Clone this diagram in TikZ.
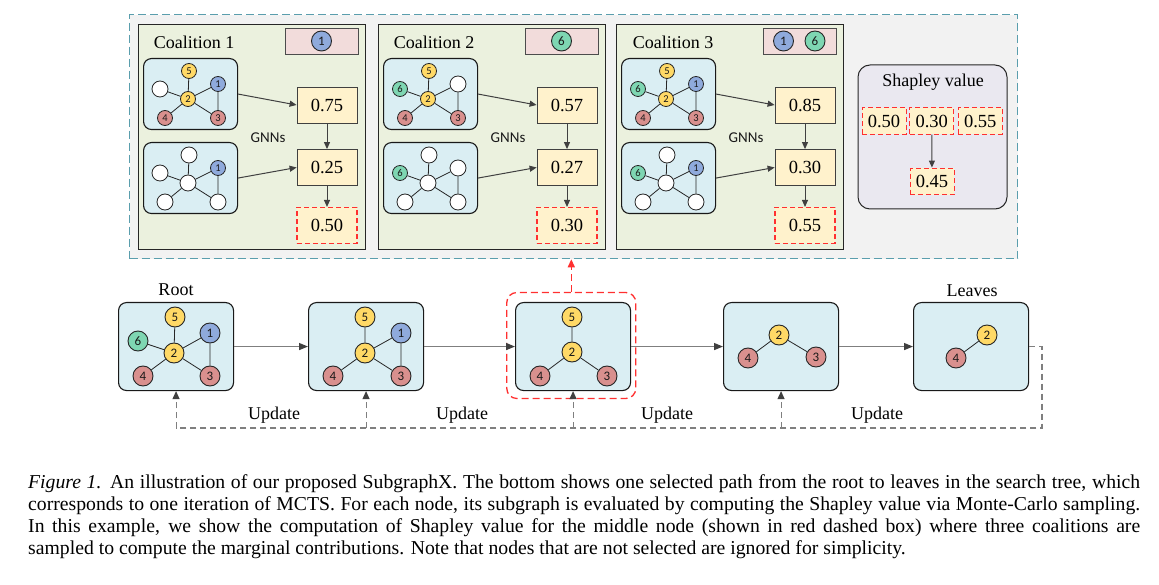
\documentclass[tikz,border=0pt]{standalone}
\usepackage{fontspec}
\setmainfont{Liberation Serif}
\newfontfamily\carl{Carlito}
\usetikzlibrary{arrows.meta}
\definecolor{outerfill}{HTML}{F2F2F2}
\definecolor{tealc}{HTML}{5A9EAD}
\definecolor{panelfill}{HTML}{EBF1DE}
\definecolor{gfill}{HTML}{DAEEF3}
\definecolor{valfill}{HTML}{FFF2CC}
\definecolor{pinkfill}{HTML}{F2DCDB}
\definecolor{shapfill}{HTML}{EAE8F0}
\definecolor{yelc}{HTML}{FFD966}
\definecolor{bluec}{HTML}{8FAADC}
\definecolor{redc}{HTML}{D9908E}
\definecolor{greenc}{HTML}{7ED6B2}
\definecolor{redd}{HTML}{FF3030}
\definecolor{arrc}{HTML}{404040}
\definecolor{linec}{HTML}{7F7F7F}
\newcommand\fs[1]{\fontsize{#1}{#1}\selectfont}
\tikzset{
  topbox/.style={draw=tealc, fill=outerfill, line width=1.3pt, dash pattern=on 8pt off 4pt, inner sep=0pt},
  panel/.style={draw=black!85, fill=panelfill, line width=1pt, anchor=north west, minimum width=227pt, minimum height=225pt, inner sep=0pt},
  gbox/.style={draw=black!90, fill=gfill, line width=1.1pt, rounded corners=8pt, inner sep=0pt},
  vbox/.style={draw=black!75, fill=valfill, line width=0.8pt, minimum width=60pt, minimum height=36pt, inner sep=0pt, font=\fs{18.5}},
  dval/.style={draw=redd, fill=valfill, dash pattern=on 5pt off 3pt, line width=1.1pt, minimum width=60pt, minimum height=36pt, inner sep=0pt, font=\fs{18.5}},
  sbox/.style={draw=redd, fill=valfill, dash pattern=on 5pt off 3pt, line width=1pt, minimum width=44pt, minimum height=26.5pt, inner sep=0pt, font=\fs{18.5}},
  pinkbox/.style={draw=black!70, fill=pinkfill, line width=0.8pt, minimum width=73pt, minimum height=26pt, inner sep=0pt},
  gn/.style={circle, draw=black!85, line width=0.8pt, minimum size=15pt, inner sep=0pt, text=black!90, font=\carl\fs{10.5}},
  gnb/.style={circle, draw=black!85, line width=0.9pt, minimum size=20pt, inner sep=0pt, text=black!90, font=\carl\fs{13}},
  cw/.style={fill=white, minimum size=16pt, node contents={}},
  c1/.style={fill=bluec, node contents=1},
  c2/.style={fill=yelc, node contents=2},
  c3/.style={fill=redc, node contents=3},
  c4/.style={fill=redc, node contents=4},
  c5/.style={fill=yelc, node contents=5},
  c6/.style={fill=greenc, node contents=6},
  gedge/.style={draw=black!85, line width=0.8pt},
  arr/.style={draw=arrc, line width=1pt, -{Triangle[length=7pt,width=6pt]}},
  harr/.style={draw=linec, line width=1.3pt, -{Triangle[length=9pt,width=7pt,color=arrc]}},
  fb/.style={draw=linec, line width=1.1pt, dash pattern=on 6pt off 4pt},
  fbarr/.style={fb, -{Triangle[length=8pt,width=7pt,color=arrc]}},
  ttl/.style={font=\fs{18}, inner sep=0pt},
  gnn/.style={font=\carl\fs{15}, text=black!90, inner sep=0pt},
  captext/.style={font=\fs{19.7}, inner sep=0pt, anchor=base west},
}
\newcommand\sgraph[9]{%
  \node[gbox, minimum width=94pt, minimum height=71pt, anchor=north west] (#1) at (#2,#3) {};
  \begin{scope}[shift={(#2,#3)}]
    \node (#1-5) at (46,13) [gn,#4];
    \node (#1-6) at (17,31) [gn,#5];
    \node (#1-2) at (45,41) [gn,#6];
    \node (#1-1) at (75,26) [gn,#7];
    \node (#1-4) at (22,60) [gn,#8];
    \node (#1-3) at (75,60) [gn,#9];
  \end{scope}
  \draw[gedge] (#1-5)--(#1-2) (#1-6)--(#1-2) (#1-2)--(#1-1) (#1-2)--(#1-4) (#1-2)--(#1-3) (#1-1)--(#1-3);
}
\begin{document}
\begin{tikzpicture}[x=1pt,y=-1pt]
\useasboundingbox[fill=white] (0,0) rectangle (1159,585);
% top dashed box
\node[topbox, anchor=north west, minimum width=888pt, minimum height=244pt] (top) at (129,14) {};
% ---------- Coalition 1
\node[panel] (p1) at (138,24) {};
\node[ttl] (p1t) at (194,42) {Coalition 1};
\node[pinkbox] (p1k) at (321.5,41) {};
\node (p1k1) at (321.5,41) [gnb,c1];
\sgraph{p1a}{143}{58}{c5}{cw}{c2}{c1}{c4}{c3}
\sgraph{p1b}{143}{142}{cw}{cw}{cw}{c1}{cw}{cw}
\node[vbox] (p1v1) at (327,105) {0.75};
\node[vbox] (p1v2) at (327,167.5) {0.25};
\node[dval] (p1v3) at (327,225.5) {0.50};
\node[gnn] (p1g) at (268,138) {GNNs};
\draw[arr] (p1a.east) -- (p1v1.west);
\draw[arr] (p1b.east) -- (p1v2.west);
\draw[arr] (p1v1) -- (p1v2);
\draw[arr] (p1v2) -- (p1v3);
% ---------- Coalition 2
\node[panel] (p2) at (378,24) {};
\node[ttl] (p2t) at (434,42) {Coalition 2};
\node[pinkbox] (p2k) at (561.5,41) {};
\node (p2k6) at (561.5,41) [gnb,c6];
\sgraph{p2a}{383}{58}{c5}{c6}{c2}{cw}{c4}{c3}
\sgraph{p2b}{383}{142}{cw}{c6}{cw}{cw}{cw}{cw}
\node[vbox] (p2v1) at (567,105) {0.57};
\node[vbox] (p2v2) at (567,167.5) {0.27};
\node[dval] (p2v3) at (567,225.5) {0.30};
\node[gnn] (p2g) at (508,138) {GNNs};
\draw[arr] (p2a.east) -- (p2v1.west);
\draw[arr] (p2b.east) -- (p2v2.west);
\draw[arr] (p2v1) -- (p2v2);
\draw[arr] (p2v2) -- (p2v3);
% ---------- Coalition 3
\node[panel] (p3) at (616,24) {};
\node[ttl] (p3t) at (673,42) {Coalition 3};
\node[pinkbox] (p3k) at (799.5,41) {};
\node (p3k1) at (783.5,41) [gnb,c1];
\node (p3k6) at (815,41) [gnb,c6];
\sgraph{p3a}{621}{58}{c5}{c6}{c2}{c1}{c4}{c3}
\sgraph{p3b}{621}{142}{cw}{c6}{cw}{c1}{cw}{cw}
\node[vbox] (p3v1) at (805,105) {0.85};
\node[vbox] (p3v2) at (805,167.5) {0.30};
\node[dval] (p3v3) at (805,225.5) {0.55};
\node[gnn] (p3g) at (746,138) {GNNs};
\draw[arr] (p3a.east) -- (p3v1.west);
\draw[arr] (p3b.east) -- (p3v2.west);
\draw[arr] (p3v1) -- (p3v2);
\draw[arr] (p3v2) -- (p3v3);
% ---------- Shapley value
\node[draw=black!85, fill=shapfill, line width=1pt, rounded corners=12pt, minimum width=149pt, minimum height=144pt, inner sep=0pt, anchor=north west] (shap) at (857.5,64.5) {};
\node[ttl] (shapt) at (933,82) {Shapley value};
\node[sbox] (s1) at (884,121) {0.50};
\node[sbox] (s2) at (931.7,121) {0.30};
\node[sbox] (s3) at (980.3,121) {0.55};
\node[sbox] (s4) at (932,181.3) {0.45};
\draw[arr] (s2) -- (s4);
% ---------- bottom search path
\node[draw=redd, line width=1.3pt, dash pattern=on 7pt off 4pt, rounded corners=10pt, minimum width=129pt, minimum height=106pt, inner sep=0pt] (sel) at (571.3,345.5) {};
\draw[draw=redd, line width=1.3pt, dash pattern=on 7pt off 4pt, -{Triangle[length=8pt,width=7pt]}] (sel.north) -- (sel.north |- top.south);
% root
\node[gbox, minimum width=115pt, minimum height=88pt, anchor=north west] (b1) at (118,302) {};
\begin{scope}[shift={(118,302)}]
\node (b1-5) at (57,15) [gnb,c5];
\node (b1-6) at (20,39) [gnb,c6];
\node (b1-2) at (56,51) [gnb,c2];
\node (b1-1) at (92,31) [gnb,c1];
\node (b1-4) at (25,74) [gnb,c4];
\node (b1-3) at (92,74) [gnb,c3];
\end{scope}
\draw[gedge] (b1-5)--(b1-2) (b1-6)--(b1-2) (b1-2)--(b1-1) (b1-2)--(b1-4) (b1-2)--(b1-3) (b1-1)--(b1-3);
\node[ttl] (rootl) at (176,290) {Root};
% box 2
\node[gbox, minimum width=115pt, minimum height=88pt, anchor=north west] (b2) at (308,302) {};
\begin{scope}[shift={(308,302)}]
\node (b2-5) at (57,15) [gnb,c5];
\node (b2-2) at (57,51) [gnb,c2];
\node (b2-1) at (93,31) [gnb,c1];
\node (b2-4) at (25,74) [gnb,c4];
\node (b2-3) at (93,74) [gnb,c3];
\end{scope}
\draw[gedge] (b2-5)--(b2-2) (b2-2)--(b2-1) (b2-2)--(b2-4) (b2-2)--(b2-3) (b2-1)--(b2-3);
% box 3 (selected)
\node[gbox, minimum width=115pt, minimum height=88pt, anchor=north west] (b3) at (515,302) {};
\begin{scope}[shift={(515,302)}]
\node (b3-5) at (57,15) [gnb,c5];
\node (b3-2) at (57,50) [gnb,c2];
\node (b3-4) at (25,74) [gnb,c4];
\node (b3-3) at (92,74) [gnb,c3];
\end{scope}
\draw[gedge] (b3-5)--(b3-2) (b3-2)--(b3-4) (b3-2)--(b3-3);
% box 4
\node[gbox, minimum width=115pt, minimum height=88pt, anchor=north west] (b4) at (723,302) {};
\begin{scope}[shift={(723,302)}]
\node (b4-2) at (56,33) [gnb,c2];
\node (b4-4) at (25,56) [gnb,c4];
\node (b4-3) at (93,55) [gnb,c3];
\end{scope}
\draw[gedge] (b4-4)--(b4-2) (b4-2)--(b4-3);
% leaves
\node[gbox, minimum width=115pt, minimum height=88pt, anchor=north west] (b5) at (913,302) {};
\begin{scope}[shift={(913,302)}]
\node (b5-2) at (74,33) [gnb,c2];
\node (b5-4) at (43,56) [gnb,c4];
\end{scope}
\draw[gedge] (b5-4)--(b5-2);
\node[ttl] (leavesl) at (972,291) {Leaves};
% forward arrows
\draw[harr] (b1.east) -- (b2.west);
\draw[harr] (b2.east) -- (b3.west);
\draw[harr] (b3.east) -- (b4.west);
\draw[harr] (b4.east) -- (b5.west);
% feedback
\coordinate (fbc) at (1042,428);
\coordinate (u2) at (b2.south |- fbc);
\coordinate (u3) at (b3.south |- fbc);
\coordinate (u4) at (b4.south |- fbc);
\draw[fbarr] (b5.east) -| (fbc) -| (b1.south);
\draw[fbarr] (u2) -- (b2.south);
\draw[fbarr] (u3) -- (b3.south);
\draw[fbarr] (u4) -- (b4.south);
\node[ttl] (up1) at (274,415) {Update};
\node[ttl] (up2) at (462,415) {Update};
\node[ttl] (up3) at (667,415) {Update};
\node[ttl] (up4) at (877,415) {Update};
% caption
\node[captext] (cap1) at (28,488.5) {\makebox[1112pt][s]{\textit{Figure 1.} An illustration of our proposed SubgraphX. The bottom shows one selected path from the root to leaves in the search tree, which}};
\node[captext] (cap2) at (28,510.7) {\makebox[1112pt][s]{corresponds to one iteration of MCTS. For each node, its subgraph is evaluated by computing the Shapley value via Monte-Carlo sampling.}};
\node[captext] (cap3) at (28,532.8) {\makebox[1112pt][s]{In this example, we show the computation of Shapley value for the middle node (shown in red dashed box) where three coalitions are}};
\node[captext] (cap4) at (28,554.9) {sampled to compute the marginal contributions. Note that nodes that are not selected are ignored for simplicity.};
\end{tikzpicture}
\end{document}
